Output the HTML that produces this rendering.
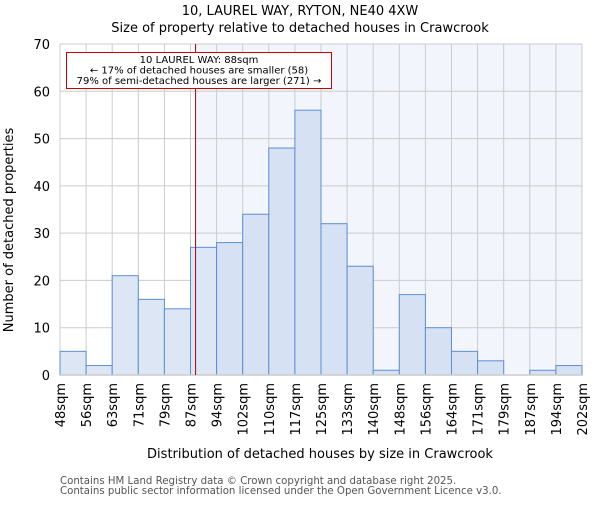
<!DOCTYPE html>
<html><head><meta charset="utf-8"><style>
body{margin:0;background:#fff;}
svg{font-family:"DejaVu Sans","Liberation Sans",sans-serif;}
</style></head><body>
<svg id="chart" width="600" height="500">
<rect width="600" height="500" fill="#fff"/>
<text x="300" y="15" text-anchor="middle" font-size="13">10, LAUREL WAY, RYTON, NE40 4XW</text>
<text x="300" y="32" text-anchor="middle" font-size="13">Size of property relative to detached houses in Crawcrook</text>
<g id="plot"></g>
<text transform="translate(13,230) rotate(-90)" text-anchor="middle" font-size="13">Number of detached properties</text>
<text x="320" y="458" text-anchor="middle" font-size="13">Distribution of detached houses by size in Crawcrook</text>
<text x="60" y="484" font-size="10.2" fill="#555">Contains HM Land Registry data © Crown copyright and database right 2025.</text>
<text x="60" y="494" font-size="10.2" fill="#555">Contains public sector information licensed under the Open Government Licence v3.0.</text>
</svg>
<script>
const tickLabels=["48sqm","56sqm","63sqm","71sqm","79sqm","87sqm","94sqm","102sqm","110sqm","117sqm","125sqm","133sqm","140sqm","148sqm","156sqm","164sqm","171sqm","179sqm","187sqm","194sqm","202sqm"];
const counts=[5,2,21,16,14,27,28,34,48,56,32,23,1,17,10,5,3,0,1,2];
const yTicks=[0,10,20,30,40,50,60,70];
const markerValue=88;
const binEdges=[48,55.7,63.4,71.1,78.8,86.5,94.2,101.9,109.6,117.3,125,132.7,140.4,148.1,155.8,163.5,171.2,178.9,186.6,194.3,202];
const X0=60,X1=582,Y0=375,Y1=44,YMAX=70;
const nb=counts.length,bw=(X1-X0)/nb;
const xi=i=>X0+i*bw;
const y=v=>Y0-(v/YMAX)*(Y0-Y1);
function xv(v){for(let i=0;i<binEdges.length-1;i++){if(v<=binEdges[i+1])return xi(i)+(v-binEdges[i])/(binEdges[i+1]-binEdges[i])*bw;}return X1;}
const g=document.getElementById('plot');
const NS='http://www.w3.org/2000/svg';
function mk(t,a){const e=document.createElementNS(NS,t);for(const k in a)e.setAttribute(k,a[k]);g.appendChild(e);return e;}
const mx=xv(markerValue);
let e=mk('rect',{x:mx,y:Y1,width:X1-mx,height:Y0-Y1,fill:'#f2f5fc'});


for(let i=0;i<=nb;i++){e=mk('line',{x1:xi(i),x2:xi(i),y1:Y1,y2:Y0,stroke:'#ccc','stroke-width':1});

}
yTicks.forEach(t=>{e=mk('line',{x1:X0,x2:X1,y1:y(t),y2:y(t),stroke:'#ccc','stroke-width':1});


const tx=mk('text',{x:X0-10,y:y(t)+5,'text-anchor':'end','font-size':13});tx.textContent=t;

});
counts.forEach((c,i)=>{if(c<=0)return;
const r=mk('rect',{x:xi(i),y:y(c),width:bw,height:Y0-y(c),fill:xi(i)<mx?'#dce6f4':'#d6e1f3',stroke:'#5b8fd4','stroke-width':1});

});
e=mk('line',{x1:X0,x2:X1,y1:Y0,y2:Y0,stroke:'#ccc','stroke-width':1.5});


tickLabels.forEach((l,i)=>{const t=mk('text',{transform:`translate(${xi(i)+5},383) rotate(-90)`,'text-anchor':'end','font-size':13});t.textContent=l;

});
e=mk('line',{x1:mx,x2:mx,y1:Y1,y2:Y0,stroke:'#b00000','stroke-width':1});


e=mk('rect',{x:66.5,y:52.5,width:265,height:36,fill:'#fff',stroke:'#cc0000','stroke-width':1});


["10 LAUREL WAY: 88sqm","← 17% of detached houses are smaller (58)","79% of semi-detached houses are larger (271) →"].forEach((s,i)=>{const t=mk('text',{x:199,y:63+i*10.5,'text-anchor':'middle','font-size':10});t.textContent=s;

});
</script>
</body></html>
